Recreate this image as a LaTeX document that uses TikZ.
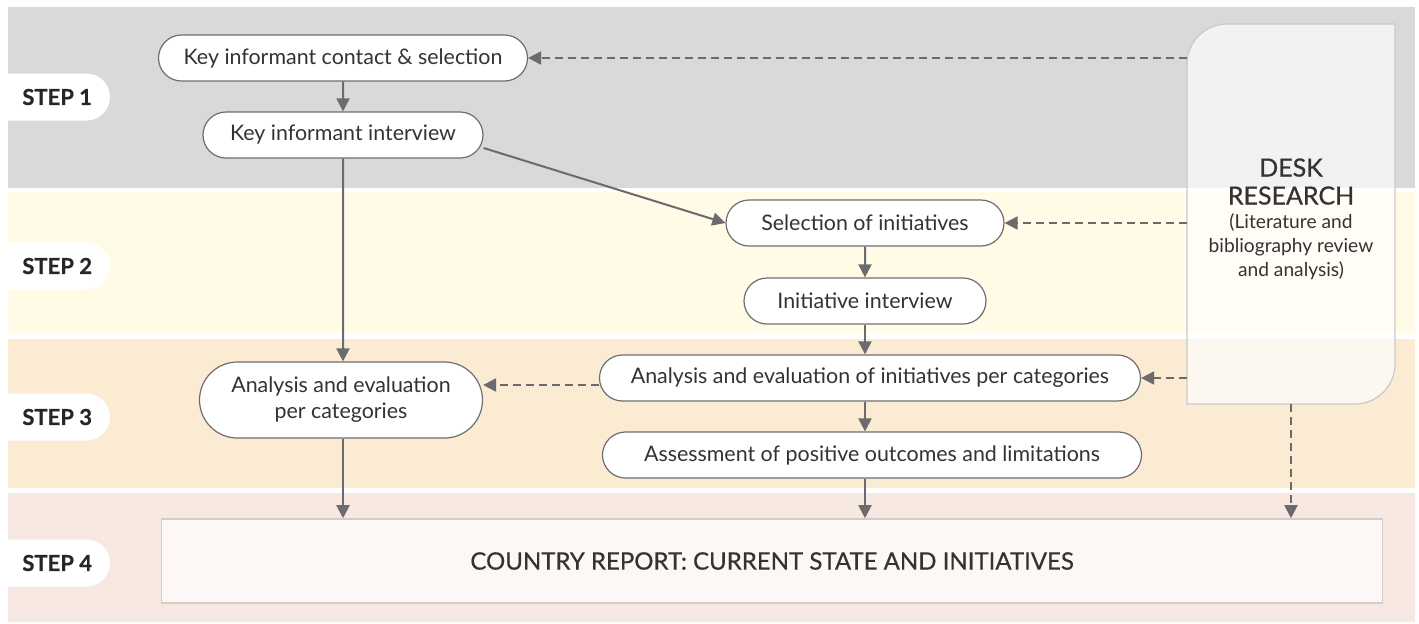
\documentclass[tikz,border=0pt]{standalone}
\usepackage{fontspec}
\setmainfont{Lato}
\usetikzlibrary{arrows.meta,shapes.misc,positioning}
\definecolor{bandgray}{HTML}{D9D9D9}
\definecolor{bandyellow}{HTML}{FFFBE7}
\definecolor{bandpeach}{HTML}{FCEBD3}
\definecolor{bandpink}{HTML}{F7E8E1}
\definecolor{reportfill}{HTML}{FDF8F5}
\definecolor{reportline}{HTML}{D2CDCB}
\definecolor{boxline}{HTML}{6E6E70}
\definecolor{arrowgray}{HTML}{6B6B6E}
\definecolor{inkgray}{HTML}{333333}
\definecolor{deskline}{HTML}{C8CACC}
\newcommand{\desktitle}{\fontsize{12.5}{14}\selectfont\addfontfeature{FakeBold=0.7}}
\newcommand{\desksub}{\fontsize{9.6}{11}\selectfont}
\tikzset{
>={Triangle[length=6.5pt,width=6.5pt]},
  pill/.style={
    rounded rectangle,
    draw=boxline, line width=0.6pt,
    fill=white,
    text=inkgray,
    font=\fontsize{10.7}{13}\selectfont,
    minimum height=23pt,
    inner xsep=0pt,
    align=center},
  flow/.style={draw=arrowgray, line width=1pt, ->},
  deskflow/.style={flow, dash pattern=on 4pt off 2.5pt},
  steptab/.style={
    rounded rectangle,
    rounded rectangle left arc=none,
    fill=white,
    minimum width=51pt,
    minimum height=23.5pt,
    inner sep=0pt},
  steplabel/.style={
    font=\bfseries\fontsize{11}{13}\selectfont\addfontfeature{FakeBold=0.6},
    text=black!85, anchor=west, inner sep=0pt},
}

\begin{document}
\begin{tikzpicture}[x=0.5pt,y=-0.5pt]
    \useasboundingbox (0,0) rectangle (1419,623);

    % step bands
    \fill[bandgray]   (8,7)   rectangle (1415,188);
    \fill[bandyellow] (8,192) rectangle (1415,333);
    \fill[bandpeach]  (8,339) rectangle (1415,488);
    \fill[bandpink]   (8,493) rectangle (1415,622);

    \node [steptab] (tab1) at (59,97) {};
    \node [steptab] (tab2) at (59,266) {};
    \node [steptab] (tab3) at (59,417) {};
    \node [steptab] (tab4) at (59,563) {};
    \node [steplabel] (step1) at (22,97) {STEP 1};
    \node [steplabel] (step2) at (22,266) {STEP 2};
    \node [steplabel] (step3) at (22,417) {STEP 3};
    \node [steplabel] (step4) at (22,563) {STEP 4};

    % desk research box
    \fill[white, fill opacity=0.66] (1187,404) -- (1187,64) .. controls (1187,42) and (1205,24) .. (1227,24)
        -- (1395,24) -- (1395,364) .. controls (1395,386) and (1377,404) .. (1355,404) -- cycle;
    \draw[deskline, line width=0.6pt] (1187,404) -- (1187,64) .. controls (1187,42) and (1205,24) .. (1227,24)
        -- (1395,24) -- (1395,364) .. controls (1395,386) and (1377,404) .. (1355,404) -- cycle;
    \node [minimum width=104pt, minimum height=190pt, inner sep=0pt, align=center, text=inkgray] (desk) at (1291,214) {};
    \node [align=center, text=inkgray, inner sep=0pt, anchor=north] (desktext) at (1291,158)
        {\desktitle DESK\\[2pt]\desktitle RESEARCH\\[0pt]\desksub (Literature and\\\desksub bibliography review\\\desksub and analysis)};

    \node [pill, minimum width=184.5pt] (contact) at (343,58) {Key informant contact \& selection};
    \node [pill, minimum width=140pt] (kiint) at (343,135) {Key informant interview};
    \node [pill, minimum width=139pt] (select) at (865,223) {Selection of initiatives};
    \node [pill, minimum width=121pt] (iniint) at (865,301) {Initiative interview};
    \node [pill, minimum width=270.5pt] (evalini) at (870,378) {Analysis and evaluation of initiatives per categories};
    \node [pill, minimum width=269.5pt] (assess) at (872,455) {Assessment of positive outcomes and limitations};
    \node [pill, minimum width=141.5pt, minimum height=38pt] (evalcat) at (341,400) {Analysis and evaluation\\per categories};
    \node [draw=reportline, line width=0.8pt, fill=reportfill, minimum width=610.5pt, minimum height=42pt,
           text=inkgray, font=\fontsize{12}{14}\selectfont\addfontfeature{FakeBold=0.5}] (report) at (772,561)
           {COUNTRY REPORT: CURRENT STATE AND INITIATIVES};

    % solid flow
    \draw[flow] (contact) -- (kiint);
    \draw[flow] (kiint) -- (kiint |- evalcat.north);
    \draw[flow] ([yshift=-6.5pt]kiint.east) -- (select.west);
    \draw[flow] (select) -- (iniint);
    \draw[flow] (iniint.south) -- (iniint |- evalini.north);
    \draw[flow] (iniint |- evalini.south) -- (iniint |- assess.north);
    \draw[flow] (iniint |- assess.south) -- (iniint |- report.north);
    \draw[flow] (kiint |- evalcat.south) -- (kiint |- report.north);

    % dashed flow from desk research
    \draw[deskflow] (desk.west |- contact) -- (contact.east);
    \draw[deskflow] (desk.west |- select) -- (select.east);
    \draw[deskflow] (desk.west |- evalini) -- (evalini.east);
    \draw[deskflow] ([yshift=-3.5pt]evalini.west) -- ([yshift=-3.5pt]evalini.west -| evalcat.east);
    \draw[deskflow] (desk.south) -- (desk.south |- report.north);

\end{tikzpicture}
\end{document}
